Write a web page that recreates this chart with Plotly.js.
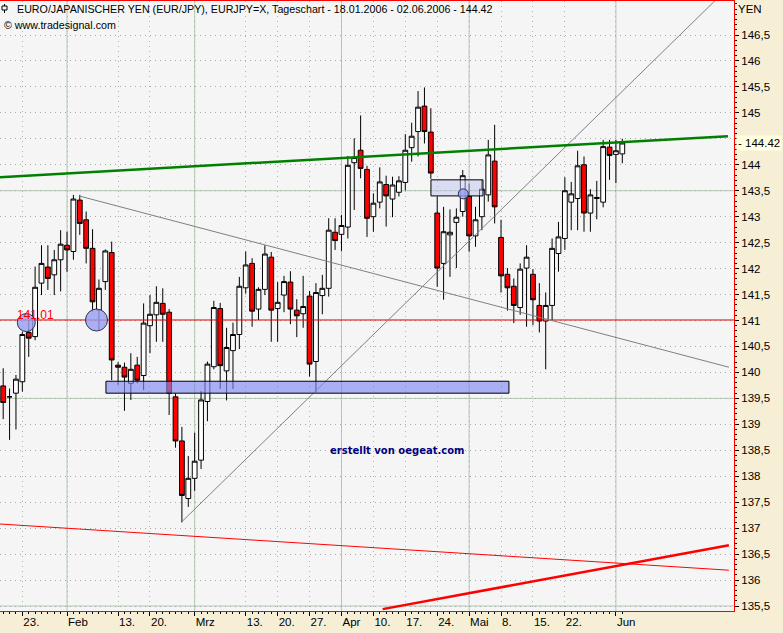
<!DOCTYPE html>
<html><head><meta charset="utf-8">
<script src="https://cdn.plot.ly/plotly-3.0.1.min.js"></script>
<style>html,body{margin:0;padding:0;background:#f6efd6;} #chart{width:783px;height:633px;}</style>
</head><body><div id="chart"></div>
<script>
// ---- data ----
const dates = [
 '2006-01-18','2006-01-19','2006-01-20',
 '2006-01-23','2006-01-24','2006-01-25','2006-01-26','2006-01-27',
 '2006-01-30','2006-01-31','2006-02-01','2006-02-02','2006-02-03',
 '2006-02-06','2006-02-07','2006-02-08','2006-02-09','2006-02-10',
 '2006-02-13','2006-02-14','2006-02-15','2006-02-16','2006-02-17',
 '2006-02-20','2006-02-21','2006-02-22','2006-02-23','2006-02-24',
 '2006-02-27','2006-02-28','2006-03-01','2006-03-02','2006-03-03',
 '2006-03-06','2006-03-07','2006-03-08','2006-03-09','2006-03-10',
 '2006-03-13','2006-03-14','2006-03-15','2006-03-16','2006-03-17',
 '2006-03-20','2006-03-21','2006-03-22','2006-03-23','2006-03-24',
 '2006-03-27','2006-03-28','2006-03-29','2006-03-30','2006-03-31',
 '2006-04-03','2006-04-04','2006-04-05','2006-04-06','2006-04-07',
 '2006-04-10','2006-04-11','2006-04-12','2006-04-13','2006-04-14',
 '2006-04-17','2006-04-18','2006-04-19','2006-04-20','2006-04-21',
 '2006-04-24','2006-04-25','2006-04-26','2006-04-27','2006-04-28',
 '2006-05-01','2006-05-02','2006-05-03','2006-05-04','2006-05-05',
 '2006-05-08','2006-05-09','2006-05-10','2006-05-11','2006-05-12',
 '2006-05-15','2006-05-16','2006-05-17','2006-05-18','2006-05-19',
 '2006-05-22','2006-05-23','2006-05-24','2006-05-25','2006-05-26',
 '2006-05-29','2006-05-30','2006-05-31','2006-06-01','2006-06-02'
];
const openP = [
 139.74,139.53,139.60,139.82,140.77,140.69,141.72,142.03,141.88,142.17,
 142.45,142.33,143.32,142.94,142.39,141.20,141.75,142.31,140.14,140.10,
 139.79,140.14,139.94,140.90,141.11,141.33,141.16,139.53,138.68,137.57,
 137.96,138.31,139.44,140.11,141.23,140.03,140.42,140.73,141.63,142.10,
 141.22,141.60,142.22,141.23,141.49,141.74,141.20,141.13,141.47,140.21,
 141.48,141.62,142.70,142.66,142.80,144.04,144.28,143.91,143.00,143.28,
 143.62,143.34,143.47,143.66,144.33,144.64,145.13,144.63,143.07,142.10,
 142.65,142.89,143.10,143.39,142.63,143.00,143.42,144.07,142.60,141.89,
 141.66,141.25,142.01,141.89,141.29,140.99,141.29,142.29,142.58,143.28,
 143.35,144.00,143.07,143.35,143.28,144.34,144.20,144.21
];
const highP = [
 140.08,139.69,139.95,140.78,141.01,142.04,142.45,142.45,142.36,142.74,
 142.71,143.42,143.42,143.10,142.76,141.79,142.37,142.52,140.20,140.19,
 140.37,140.30,141.33,141.49,141.66,141.62,141.22,139.60,138.95,138.39,
 138.84,139.64,140.21,141.38,141.34,140.86,140.96,141.84,142.33,142.20,
 141.64,142.45,142.32,141.74,141.86,141.95,141.41,141.86,141.57,141.72,
 141.88,142.97,142.97,143.03,144.17,144.51,144.95,143.98,143.45,143.95,
 143.79,143.77,143.78,144.59,144.81,145.42,145.49,145.09,143.39,143.19,
 143.14,143.16,143.90,143.64,143.19,143.71,144.48,144.77,142.94,142.01,
 141.81,142.10,142.45,141.99,141.72,141.54,142.58,142.90,143.76,143.67,
 144.27,144.16,143.53,143.69,144.48,144.48,144.48,144.50
];
const lowP = [
 139.10,138.70,138.90,139.63,140.30,140.62,141.49,141.59,141.49,141.56,
 141.94,142.17,142.65,142.10,141.17,140.82,141.59,139.85,139.76,139.26,
 139.47,139.79,139.66,140.37,140.59,140.59,139.18,138.55,137.11,137.41,
 137.72,138.14,139.06,140.06,139.68,139.46,139.68,140.45,141.52,140.88,
 141.01,141.49,140.59,140.59,141.16,140.93,140.68,140.86,139.92,139.62,
 141.12,141.46,142.36,142.34,142.58,143.13,143.74,142.61,142.71,143.16,
 142.81,142.99,143.39,143.51,144.06,144.16,144.41,143.73,141.65,141.40,
 141.84,142.01,143.00,142.33,142.42,142.74,143.29,142.87,141.54,141.19,
 140.95,141.11,140.88,140.91,140.77,140.06,140.99,141.94,142.36,142.74,
 142.74,142.71,142.71,142.95,143.18,143.71,143.65,144.03
];
const closeP = [
 139.42,139.53,139.87,140.73,140.66,141.64,142.10,141.81,142.17,142.47,
 142.36,143.34,142.87,142.39,141.36,141.62,142.34,140.24,140.10,139.91,
 140.06,139.85,140.95,141.12,141.35,141.12,139.60,138.68,137.63,137.96,
 138.29,139.47,140.16,141.25,140.13,140.48,140.73,141.66,142.07,141.18,
 141.60,142.28,141.20,141.35,141.75,141.22,141.09,141.27,140.16,141.54,
 141.62,142.74,142.54,142.83,143.99,144.14,143.93,142.97,143.26,143.67,
 143.40,143.61,143.69,144.28,144.55,145.11,144.64,143.84,142.01,142.71,
 142.70,142.99,143.79,142.63,142.94,143.53,144.19,143.19,141.86,141.63,
 141.29,141.99,142.22,141.40,140.99,141.29,142.39,142.61,143.50,143.44,
 143.98,143.07,143.42,143.37,144.35,144.18,144.27,144.42
];
const tickDates = ['2006-01-23','2006-02-01','2006-02-13','2006-02-20','2006-03-01','2006-03-13','2006-03-20','2006-03-27','2006-04-03','2006-04-10','2006-04-17','2006-04-24','2006-05-01','2006-05-08','2006-05-15','2006-05-22','2006-06-01'];
const tickLabels = ['23.','Feb','13.','20.','Mrz','13.','20.','27.','Apr','10.','17.','24.','Mai','8.','15.','22.','Jun'];
const yTickVals = [135.5,136,136.5,137,137.5,138,138.5,139,139.5,140,140.5,141,141.5,142,142.5,143,143.5,144,144.5,145,145.5,146,146.5];
const yTickText = ['135,5','136','136,5','137','137,5','138','138,5','139','139,5','140','140,5','141','141,5','142','142,5','143','143,5','144','','145','145,5','146','146,5'];
const monthStarts = ['2006-02-01','2006-03-01','2006-04-03','2006-05-01','2006-06-01'];
const solidLevels = [135.5, 139.5, 143.5];
const lastPrice = 144.42;
const markLevel = 141.01;
// drawn trendlines: [x index start, price start, x index end, price end]
const greenLine   = [-0.5, 143.76, 113.55, 144.55];
const grayDown    = [11.87, 143.40, 113.7, 140.10];
const grayUp      = [27.96, 137.12, 111.6, 147.17];
const redThick    = [59.45, 135.44, 113.7, 136.67];
const redThin     = [-0.5, 137.08, 113.7, 136.19];
const supportBox  = [16.1, 139.60, 79.24, 139.83];
const resistBox   = [67.02, 143.40, 75.17, 143.71];
const circles     = [[3.62, 140.96, 9], [14.62, 141.01, 11], [72.08, 143.44, 5]];
const titleText = 'EURO/JAPANISCHER YEN (EUR/JPY), EURJPY=X, Tageschart - 18.01.2006 - 02.06.2006 - 144.42';

// ---- chart ----
const sans = 'Liberation Sans, Arial, sans-serif';
const axisFont = {family: sans, size: 11.5, color: '#000'};

const trace = {
  type: 'candlestick', x: dates, open: openP, high: highP, low: lowP, close: closeP,
  increasing: {line: {color: '#000000', width: 1}, fillcolor: '#ffffff'},
  decreasing: {line: {color: '#000000', width: 1}, fillcolor: '#ff0000'},
  whiskerwidth: 0, showlegend: false, hoverinfo: 'skip'
};

function seg(a, color, width) {
  return {type: 'line', xref: 'x', yref: 'y', x0: a[0], y0: a[1], x1: a[2], y1: a[3],
          line: {color: color, width: width}, layer: 'above'};
}
const shapes = [];
monthStarts.forEach(d => {
  const i = dates.indexOf(d);
  shapes.push({type: 'line', xref: 'x', yref: 'paper', x0: i, x1: i, y0: 0, y1: 1,
               line: {color: '#b3c8b3', width: 1}, layer: 'between'});
});
solidLevels.forEach(v => {
  shapes.push({type: 'line', xref: 'paper', yref: 'y', x0: 0, x1: 1, y0: v, y1: v,
               line: {color: '#b3c8b3', width: 1}, layer: 'between'});
});
shapes.push({type: 'line', xref: 'paper', yref: 'y', x0: 0, x1: 1, y0: markLevel, y1: markLevel,
             line: {color: '#e00000', width: 1}, layer: 'above'});
shapes.push(seg(grayDown, '#808080', 1));
shapes.push(seg(grayUp, '#808080', 1));
shapes.push(seg(redThin, '#ff0000', 1));
shapes.push(seg(redThick, '#ff0000', 2.5));
shapes.push({type: 'rect', xref: 'x', yref: 'y', x0: supportBox[0], y0: supportBox[1], x1: supportBox[2], y1: supportBox[3],
             fillcolor: 'rgba(128,136,240,0.65)', line: {color: '#000000', width: 1}, layer: 'above'});
shapes.push({type: 'rect', xref: 'x', yref: 'y', x0: resistBox[0], y0: resistBox[1], x1: resistBox[2], y1: resistBox[3],
             fillcolor: 'rgba(190,195,240,0.5)', line: {color: '#000000', width: 1}, layer: 'above'});
shapes.push(seg(greenLine, '#008000', 2.5));
circles.forEach(c => {
  shapes.push({type: 'circle', xref: 'x', yref: 'y', xsizemode: 'pixel', ysizemode: 'pixel',
               xanchor: c[0], yanchor: c[1], x0: -c[2], x1: c[2], y0: -c[2], y1: c[2],
               fillcolor: 'rgba(150,158,240,0.8)', line: {color: '#30305a', width: 1}, layer: 'above'});
});
// small candle icon in the title line
shapes.push({type: 'line', xref: 'paper', yref: 'paper', xsizemode: 'pixel', ysizemode: 'pixel',
             xanchor: 0, yanchor: 1, x0: 4.5, x1: 4.5, y0: -3, y1: -12, line: {color: '#000', width: 1}});
shapes.push({type: 'rect', xref: 'paper', yref: 'paper', xsizemode: 'pixel', ysizemode: 'pixel',
             xanchor: 0, yanchor: 1, x0: 2, x1: 7, y0: -5, y1: -9, fillcolor: '#f5f5f5', line: {color: '#000', width: 1}});

const annotations = [
  {xref: 'paper', yref: 'paper', x: 0, y: 0.9861, xanchor: 'left', yanchor: 'middle', xshift: 15,
   text: titleText, showarrow: false, font: {family: sans, size: 10.7, color: '#000'}},
  {xref: 'paper', yref: 'paper', x: 0, y: 0.9607, xanchor: 'left', yanchor: 'middle', xshift: 2,
   text: '© www.tradesignal.com', showarrow: false, font: {family: sans, size: 10.7, color: '#000'}},
  {xref: 'paper', yref: 'paper', x: 1, y: 0.9861, xanchor: 'left', yanchor: 'middle', xshift: 2,
   text: 'YEN', showarrow: false, font: axisFont},
  {xref: 'paper', yref: 'y', x: 1, y: lastPrice, xanchor: 'left', yanchor: 'middle', xshift: 2,
   text: '- ' + lastPrice.toFixed(2), showarrow: false, bgcolor: '#ffffe0', borderpad: 1,
   font: axisFont},
  {xref: 'x', yref: 'y', x: 1.8, y: 141.11, xanchor: 'left', yanchor: 'middle',
   text: markLevel.toFixed(2), showarrow: false, font: {family: sans, size: 12, color: '#ff0000'}},
  {xref: 'paper', yref: 'paper', x: 0.5402, y: 0.2623, xanchor: 'center', yanchor: 'middle',
   text: '<b>erstellt von oegeat.com</b>', showarrow: false,
   font: {family: 'DejaVu Sans, Verdana, sans-serif', size: 10, color: '#000080'}}
];

const layout = {
  width: 783, height: 633,
  margin: {l: 0, r: 49, t: 1, b: 22, pad: 0},
  paper_bgcolor: '#f6efd6', plot_bgcolor: '#f5f5f5',
  boxgap: 0.25, boxgroupgap: 0,
  showlegend: false,
  xaxis: {
    type: 'category', range: [-0.5, 114.5], autorange: false,
    tickmode: 'array', tickvals: tickDates, ticktext: tickLabels,
    ticks: 'outside', ticklen: 4, tickcolor: '#000', tickwidth: 1,
    ticklabelposition: 'outside right',
    tickfont: axisFont,
    showgrid: true, gridcolor: '#a3bca3', griddash: '1px,4px', gridwidth: 1,
    minor: {tickmode: 'array', tickvals: dates, ticks: 'outside', ticklen: 2, tickcolor: '#000', showgrid: false},
    showline: true, linecolor: '#ff0000', linewidth: 1, mirror: true,
    zeroline: false, rangeslider: {visible: false}, fixedrange: true
  },
  yaxis: {
    side: 'right', range: [135.404, 147.155], autorange: false,
    tickmode: 'array', tickvals: yTickVals, ticktext: yTickText,
    ticks: 'outside', ticklen: 4, tickcolor: '#000',
    tickfont: axisFont,
    showgrid: true, gridcolor: '#a8a8a8', griddash: '1px,4px', gridwidth: 1,
    minor: {tickmode: 'linear', tick0: 0, dtick: 0.1, ticks: 'outside', ticklen: 2, tickcolor: '#000', showgrid: false},
    showline: true, linecolor: '#ff0000', linewidth: 1, mirror: true,
    zeroline: false, fixedrange: true
  },
  shapes: shapes,
  annotations: annotations
};

Plotly.newPlot('chart', [trace], layout, {staticPlot: true, displayModeBar: false});
</script>
</body></html>
